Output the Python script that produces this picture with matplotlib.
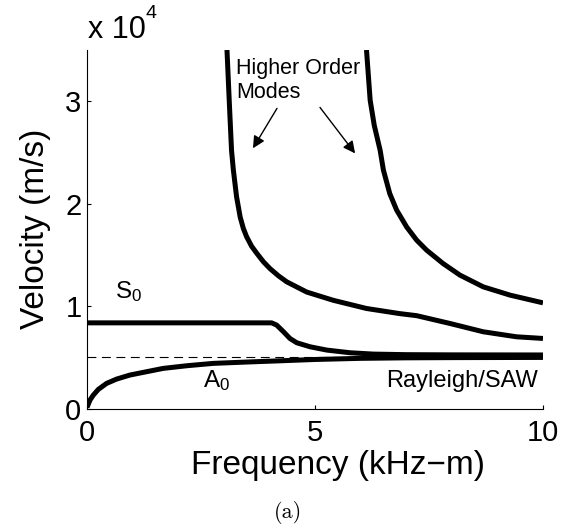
import matplotlib
matplotlib.use('Agg')
import matplotlib.pyplot as plt

plt.rcParams['font.family'] = ['Liberation Sans', 'DejaVu Sans']
plt.rcParams['mathtext.fontset'] = 'custom'
plt.rcParams['mathtext.rm'] = 'Liberation Sans'
plt.rcParams['mathtext.it'] = 'Liberation Sans:italic'

# frequency (kHz-m) / velocity (m/s)
a0_freq = [0.0, 0.066, 0.139, 0.25, 0.43, 0.65, 0.94, 1.31, 1.67, 2.19, 2.77, 3.50, 4.23,
           5.0, 6.0, 7.0, 8.0, 10.0]
a0_vel = [150, 880, 1360, 1920, 2500, 2920, 3310, 3640, 3960, 4220, 4450, 4580, 4700,
          4830, 4940, 4990, 5010, 5030]

s0_freq = [0.0, 4.05, 4.16, 4.31, 4.45, 4.60, 4.89, 5.26, 5.77, 6.28, 7.0, 8.0, 10.0]
s0_vel = [8400, 8400, 8180, 7530, 6880, 6460, 6070, 5745, 5485, 5355, 5300, 5280, 5270]

mode1_freq = [3.07, 3.12, 3.17, 3.21, 3.28, 3.36, 3.43, 3.50, 3.61, 3.72, 3.87, 4.01,
              4.20, 4.38, 4.82, 5.40, 6.13, 6.86, 7.23, 7.96, 8.69, 9.42, 10.0]
mode1_vel = [35000, 30000, 25200, 23300, 20700, 18700, 17590, 16800, 15870, 15200, 14350,
             13700, 12980, 12400, 11400, 10600, 9800, 9300, 9100, 8340, 7530, 7040, 6880]

mode2_freq = [6.13, 6.21, 6.30, 6.43, 6.50, 6.64, 6.79, 7.01, 7.23, 7.45, 7.81, 8.18,
              8.69, 9.28, 10.0]
mode2_vel = [35000, 30100, 27650, 25200, 23300, 21000, 19400, 17750, 16460, 15480, 14180,
             13050, 11910, 11100, 10350]

rayleigh_vel = 5090

xticks = [0, 5, 10]
yticks = [0, 10000, 20000, 30000]
ytick_labels = ['0', '1', '2', '3']

fig = plt.figure(figsize=(5.75, 5.29), dpi=100)
ax = fig.add_axes([0.1513, 0.2268, 0.793, 0.6787])

ax.plot([0, 10], [rayleigh_vel, rayleigh_vel], color='black', lw=0.8, dashes=(8, 5))
for f, v in [(a0_freq, a0_vel), (s0_freq, s0_vel), (mode1_freq, mode1_vel),
             (mode2_freq, mode2_vel)]:
    ax.plot(f, v, color='black', lw=3.6, solid_capstyle='butt', solid_joinstyle='round')

ax.set_xlim(0, 10)
ax.set_ylim(0, 35000)
ax.set_xticks(xticks)
ax.set_xticklabels([str(t) for t in xticks])
ax.set_yticks(yticks)
ax.set_yticklabels(ytick_labels)
ax.tick_params(direction='in', length=3, width=0.8, labelsize=21)
ax.tick_params(axis='x', pad=7)
ax.tick_params(axis='y', pad=4)
for s in ['top', 'right']:
    ax.spines[s].set_visible(False)
for s in ['left', 'bottom']:
    ax.spines[s].set_linewidth(0.8)

ax.set_xlabel('Frequency (kHz\u2212m)', fontsize=24)
ax.xaxis.set_label_coords(0.551, -0.114)
ax.set_ylabel('Velocity (m/s)', fontsize=24)
ax.yaxis.set_label_coords(-0.08, 0.503)

# exponent label
fig.text(88 / 575, 1 - 38 / 529, 'x 10', fontsize=22, ha='left', va='baseline')
fig.text(146 / 575, 1 - 18 / 529, '4', fontsize=14, ha='left', va='baseline')

ax.text(0.61, 10810, 'S$_0$', fontsize=17.5, ha='left', va='baseline')
ax.text(2.54, 2140, 'A$_0$', fontsize=17.5, ha='left', va='baseline')
ax.text(9.89, 2140, 'Rayleigh/SAW', fontsize=17, ha='right', va='baseline')
ax.text(3.27, 34200, 'Higher Order\nModes', fontsize=15.5, ha='left', va='top',
        linespacing=1.15)

ax.annotate('', xy=(3.64, 25420), xytext=(4.167, 29310),
            arrowprops=dict(arrowstyle='-|>', color='black', lw=1.0,
                            mutation_scale=18, shrinkA=0, shrinkB=0))
ax.annotate('', xy=(5.88, 24920), xytext=(5.11, 29400),
            arrowprops=dict(arrowstyle='-|>', color='black', lw=1.0,
                            mutation_scale=18, shrinkA=0, shrinkB=0))

fig.text(0.5, 0.032, '(a)', fontname='cmr10', fontsize=16, ha='center', va='center')

fig.savefig('out.png', dpi=100)
